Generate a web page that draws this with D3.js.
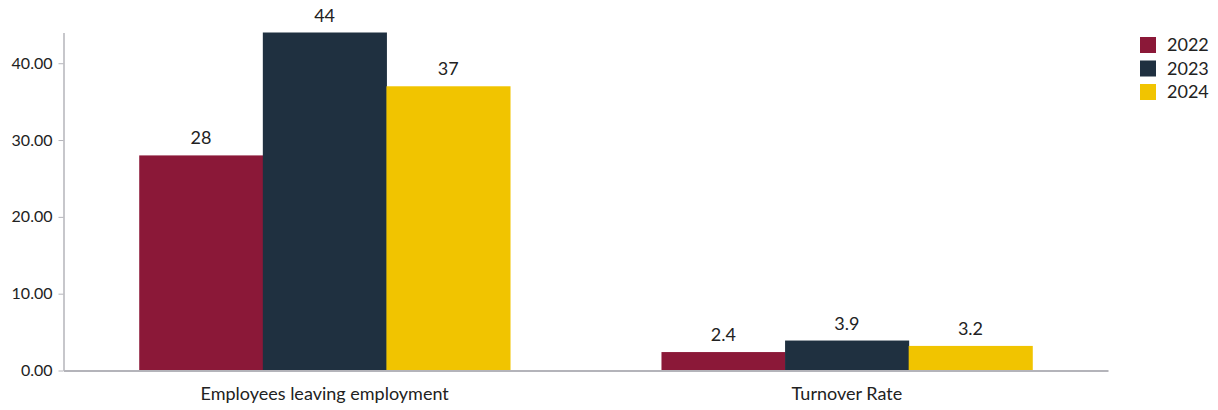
<!DOCTYPE html>
<html>
<head>
<meta charset="utf-8">
<script src="https://cdn.jsdelivr.net/npm/d3@7"></script>
<style>
  html, body { margin: 0; padding: 0; background: #fff; }
  svg { display: block; font-family: Lato, "Open Sans", sans-serif; }
</style>
</head>
<body>
<svg id="chart" width="1218" height="410"></svg>
<script>
const categories = ["Employees leaving employment", "Turnover Rate"];
const seriesNames = ["2022", "2023", "2024"];
const values2022 = [28, 2.4];
const values2023 = [44, 3.9];
const values2024 = [37, 3.2];
const yTicks = [0, 10, 20, 30, 40];
const colors = ["#8b1838", "#1f3040", "#f1c400"];

const seriesValues = [values2022, values2023, values2024];
const rows = categories.map((c, i) => ({
  category: c,
  bars: seriesNames.map((s, j) => ({ series: s, value: seriesValues[j][i], color: colors[j] }))
}));

const svg = d3.select("#chart");
const plotLeft = 63.5, plotRight = 1108, plotBottom = 370.5, plotTop = 32.5;

const x0 = d3.scaleBand().domain(categories).range([plotLeft, plotRight])
  .paddingInner(0.29).paddingOuter(0.145);
const x1 = d3.scaleBand().domain(seriesNames).range([0, x0.bandwidth()]);
const y = d3.scaleLinear().domain([0, 44]).range([plotBottom, plotTop]);

// bars
const groups = svg.append("g").selectAll("g").data(rows).join("g")
  .attr("transform", d => `translate(${x0(d.category)},0)`);
groups.selectAll("rect").data(d => d.bars).join("rect")
  .attr("x", d => x1(d.series))
  .attr("width", x1.bandwidth() + 0.5)
  .attr("y", d => y(d.value))
  .attr("height", d => y(0) - y(d.value))
  .attr("fill", d => d.color);

// value labels
groups.selectAll("text").data(d => d.bars).join("text")
  .attr("x", d => x1(d.series) + x1.bandwidth() / 2)
  .attr("y", d => y(d.value) - 11)
  .attr("text-anchor", "middle")
  .attr("font-size", 18)
  .attr("fill", "#222")
  .text(d => d.value);

// y axis
const yAxis = svg.append("g").attr("transform", `translate(${plotLeft},0)`)
  .call(d3.axisLeft(y).tickValues(yTicks).tickFormat(d3.format(".2f")).tickSize(5).tickPadding(6).tickSizeOuter(0));
yAxis.select(".domain").attr("stroke", "#b4b4ba").attr("stroke-width", 1.5);
yAxis.selectAll(".tick line").attr("stroke", "#b4b4ba");
yAxis.selectAll(".tick text").attr("font-size", 16).attr("fill", "#222")
  .attr("font-family", "Lato, sans-serif");

// x axis
const xAxis = svg.append("g").attr("transform", `translate(0,${plotBottom})`)
  .call(d3.axisBottom(x0).tickSize(0).tickPadding(17).tickSizeOuter(0));
xAxis.select(".domain").attr("stroke", "#b4b4ba").attr("stroke-width", 2);
xAxis.selectAll(".tick text").attr("font-size", 18).attr("fill", "#222")
  .attr("font-family", "Lato, sans-serif");

// legend
const legend = svg.append("g").attr("transform", "translate(1140,37)");
const items = legend.selectAll("g").data(seriesNames).join("g")
  .attr("transform", (d, i) => `translate(0,${i * 23.5})`);
items.append("rect").attr("width", 16).attr("height", 16).attr("fill", (d, i) => colors[i]);
items.append("text").attr("x", 27).attr("y", 8).attr("dy", "0.36em")
  .attr("font-size", 18).attr("fill", "#222").text(d => d);
</script>
</body>
</html>
